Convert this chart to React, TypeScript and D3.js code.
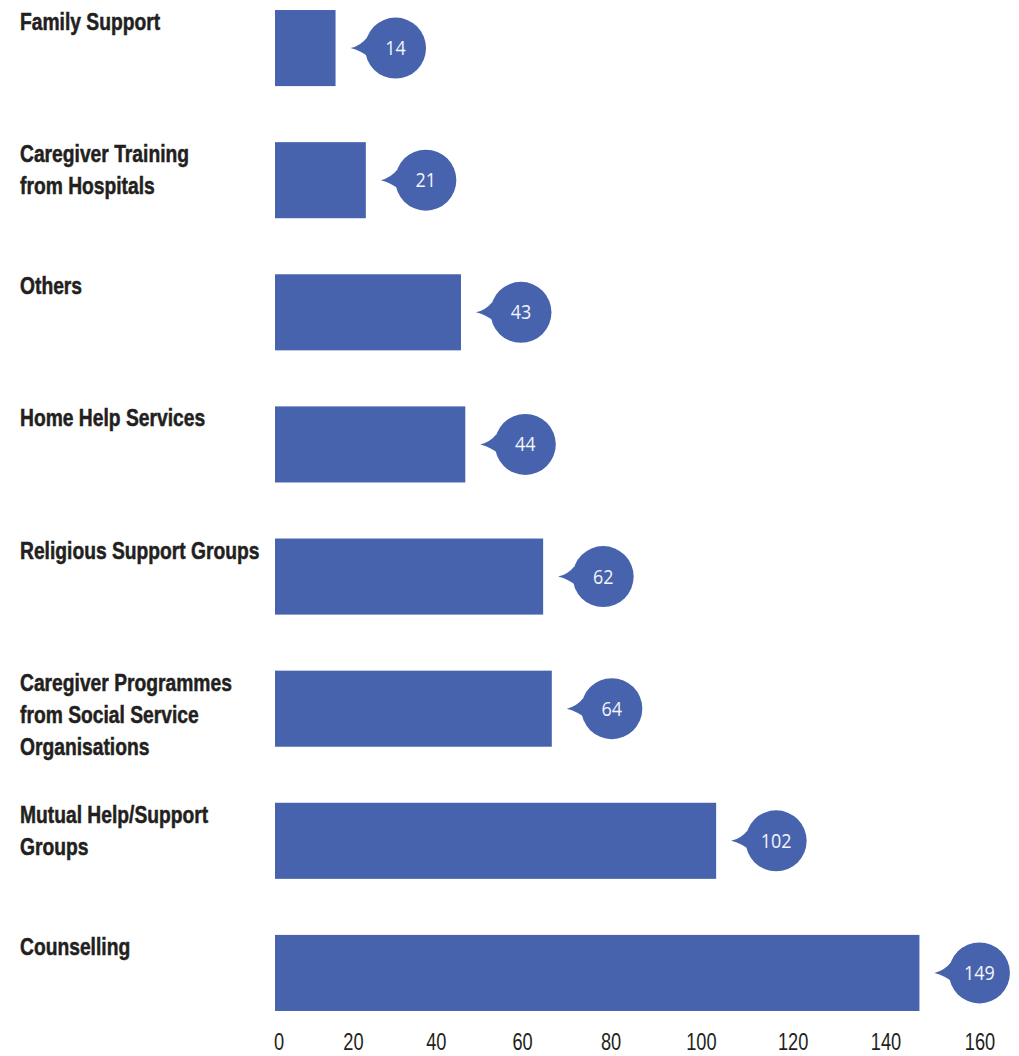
import React from "react";
import * as d3 from "d3";

const categories: string[][] = [
  ["Family Support"],
  ["Caregiver Training", "from Hospitals"],
  ["Others"],
  ["Home Help Services"],
  ["Religious Support Groups"],
  ["Caregiver Programmes", "from Social Service", "Organisations"],
  ["Mutual Help/Support", "Groups"],
  ["Counselling"],
];
const values: number[] = [14, 21, 43, 44, 62, 64, 102, 149];
const tickValues: number[] = [0, 20, 40, 60, 80, 100, 120, 140, 160];

const W = 1019;
const H = 1056;
const BAR = "#4763ad";
const TEXT = "#231f20";
const LABEL_FONT = "'Liberation Sans', Arial, sans-serif";

export default function App() {
  const x = d3.scaleLinear().domain([0, 160]).range([275, 967]);
  // tick labels in the source are laid out slightly unevenly
  const xAxis = d3.scalePow().exponent(1.078).domain([0, 160]).range([279, 980]);
  const y = d3
    .scaleBand<number>()
    .domain(d3.range(values.length))
    .range([-18, 1039])
    .paddingInner(0.4242)
    .paddingOuter(0.2121);

  const r = 30.5;
  const ang = (20 * Math.PI) / 180;

  return (
    <svg
      width={W}
      height={H}
      viewBox={`0 0 ${W} ${H}`}
      style={{ position: "absolute", left: 0, top: 0, background: "#fff" }}
    >
      {values.map((v, i) => {
        const y0 = y(i)!;
        const bh = y.bandwidth();
        const cy = y0 + bh / 2;
        const end = x(v);
        const cx = end + 60;
        const tip = end + 15;
        const p1x = cx - r * Math.cos(ang);
        const p1y = cy - r * Math.sin(ang);
        const p2y = cy + r * Math.sin(ang);
        const mx = (tip + p1x) / 2;
        const lines = categories[i];
        return (
          <g key={i}>
            <rect x={x(0)} y={y0} width={end - x(0)} height={bh} fill={BAR} />
            <path
              d={`M${tip},${cy} Q${mx + 2},${cy - 2.5} ${p1x},${p1y} L${p1x + 4},${p2y} Q${mx + 2},${cy + 2.5} ${tip},${cy} Z`}
              fill={BAR}
            />
            <circle cx={cx} cy={cy} r={r} fill={BAR} />
            <text
              transform={`translate(${cx},${cy + 7}) scale(0.92,1)`}
              textAnchor="middle"
              fill="#f4f5fb"
              fontFamily="'Open Sans', 'Noto Sans', sans-serif"
              fontSize={19.5}
            >
              {v}
            </text>
            <text
              transform={`translate(20,${y0 + 20}) scale(0.82,1)`}
              fill={TEXT}
              stroke={TEXT}
              strokeWidth={0.5}
              fontFamily={LABEL_FONT}
              fontWeight="bold"
              fontSize={23.5}
            >
              {lines.map((l, j) => (
                <tspan key={j} x={0} dy={j === 0 ? 0 : 32}>
                  {l}
                </tspan>
              ))}
            </text>
          </g>
        );
      })}
      {tickValues.map((t) => (
        <text
          key={t}
          transform={`translate(${xAxis(t)},1050) scale(0.76,1)`}
          textAnchor="middle"
          fill={TEXT}
          fontFamily={LABEL_FONT}
          fontSize={24}
        >
          {t}
        </text>
      ))}
    </svg>
  );
}
